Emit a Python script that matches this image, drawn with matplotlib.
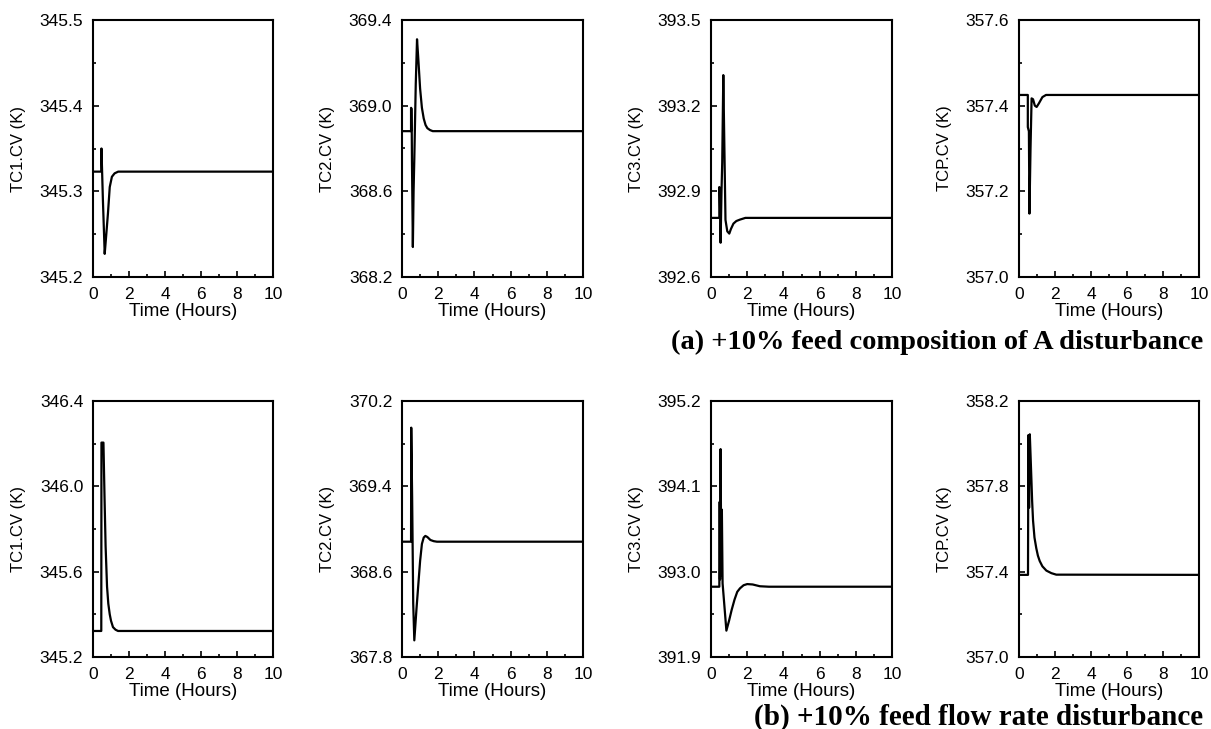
import matplotlib
matplotlib.use("Agg")
import matplotlib.pyplot as plt
from matplotlib.ticker import FixedLocator, MultipleLocator, FormatStrFormatter

plt.rcParams['font.family'] = ['Liberation Sans', 'DejaVu Sans']

# (a) +10% feed composition of A disturbance
t_tc1_a = [0, 0.46, 0.47, 0.55, 0.65, 0.72, 0.83, 0.93, 1.05, 1.20, 1.40, 10]
y_tc1_a = [345.323, 345.323, 345.350, 345.290, 345.227, 345.245, 345.274, 345.305, 345.317, 345.321, 345.323, 345.323]

t_tc2_a = [0, 0.50, 0.50, 0.53, 0.55, 0.60, 0.64, 0.68, 0.76, 0.83, 0.90, 1.00, 1.10, 1.20, 1.30, 1.40, 1.55, 1.70, 10]
y_tc2_a = [368.881, 368.881, 368.990, 368.985, 368.745, 368.340, 368.600, 368.750, 369.100, 369.310, 369.220, 369.080,
           368.990, 368.940, 368.910, 368.895, 368.886, 368.881, 368.881]

t_tc3_a = [0, 0.46, 0.46, 0.49, 0.53, 0.58, 0.62, 0.68, 0.74, 0.80, 0.90, 1.01, 1.10, 1.24, 1.40, 1.60, 1.90, 10]
y_tc3_a = [392.807, 392.807, 392.915, 392.900, 392.720, 392.900, 393.000, 393.307, 393.050, 392.800, 392.760, 392.752,
           392.768, 392.787, 392.796, 392.801, 392.807, 392.807]

t_tcp_a = [0, 0.49, 0.49, 0.55, 0.58, 0.64, 0.70, 0.78, 0.88, 0.98, 1.10, 1.30, 1.50, 10]
y_tcp_a = [357.425, 357.425, 357.350, 357.340, 357.148, 357.300, 357.417, 357.415, 357.400, 357.397, 357.405, 357.420, 357.425, 357.425]

# (b) +10% feed flow rate disturbance
t_tc1_b = [0, 0.46, 0.47, 0.58, 0.64, 0.70, 0.78, 0.85, 0.93, 1.00, 1.11, 1.25, 1.39, 10]
y_tc1_b = [345.322, 345.322, 346.205, 346.205, 345.950, 345.720, 345.530, 345.450, 345.400, 345.370, 345.340, 345.328,
           345.322, 345.322]

t_tc2_b = [0, 0.50, 0.51, 0.56, 0.62, 0.68, 0.80, 0.92, 1.00, 1.10, 1.20, 1.29, 1.40, 1.57, 1.75, 1.93, 10]
y_tc2_b = [368.881, 368.881, 369.950, 369.300, 368.300, 367.956, 368.250, 368.520, 368.700, 368.860, 368.920, 368.935,
           368.925, 368.897, 368.886, 368.881, 368.881]

t_tc3_b = [0, 0.46, 0.48, 0.50, 0.53, 0.57, 0.60, 0.64, 0.85, 1.00, 1.14, 1.30, 1.45, 1.60, 1.80, 2.00, 2.30, 2.70, 3.20, 10]
y_tc3_b = [392.806, 392.806, 393.900, 392.900, 394.580, 392.950, 393.800, 392.850, 392.240, 392.370, 392.506, 392.640,
           392.740, 392.785, 392.825, 392.840, 392.835, 392.812, 392.806, 392.806]

t_tcp_b = [0, 0.50, 0.52, 0.56, 0.60, 0.64, 0.69, 0.73, 0.78, 0.86, 0.96, 1.05, 1.15, 1.30, 1.52, 1.80, 2.07, 10]
y_tcp_b = [357.385, 357.385, 358.040, 357.700, 358.044, 357.950, 357.830, 357.730, 357.640, 357.560, 357.510, 357.475,
           357.450, 357.425, 357.405, 357.393, 357.386, 357.385]

ylabels = ["TC1.CV (K)", "TC2.CV (K)", "TC3.CV (K)", "TCP.CV (K)"]
yticks_a = [[345.2, 345.3, 345.4, 345.5], [368.2, 368.6, 369.0, 369.4],
            [392.6, 392.9, 393.2, 393.5], [357.0, 357.2, 357.4, 357.6]]
yticks_b = [[345.2, 345.6, 346.0, 346.4], [367.8, 368.6, 369.4, 370.2],
            [391.9, 393.0, 394.1, 395.2], [357.0, 357.4, 357.8, 358.2]]

caption_a = "(a) +10% feed composition of A disturbance"
caption_b = "(b) +10% feed flow rate disturbance"

W, H = 1211, 729
fig = plt.figure(figsize=(W / 100, H / 100), dpi=100)

lefts = [93, 402, 711, 1019]
widths = [180, 181, 181, 180]
rows = [(20, 277), (401, 657)]

series = [
    [(t_tc1_a, y_tc1_a), (t_tc2_a, y_tc2_a), (t_tc3_a, y_tc3_a), (t_tcp_a, y_tcp_a)],
    [(t_tc1_b, y_tc1_b), (t_tc2_b, y_tc2_b), (t_tc3_b, y_tc3_b), (t_tcp_b, y_tcp_b)],
]
ticks = [yticks_a, yticks_b]

for r, (top, bot) in enumerate(rows):
    for c in range(4):
        ax = fig.add_axes([lefts[c] / W, 1 - bot / H, widths[c] / W, (bot - top) / H])
        t, y = series[r][c]
        ax.plot(t, y, color='black', lw=1.6)
        yt = ticks[r][c]
        half = (yt[1] - yt[0]) / 2
        ax.set_xlim(0, 10)
        ax.set_ylim(yt[0], yt[-1])
        ax.xaxis.set_major_locator(MultipleLocator(2))
        ax.xaxis.set_minor_locator(MultipleLocator(1))
        ax.yaxis.set_major_locator(FixedLocator(yt))
        ax.yaxis.set_minor_locator(FixedLocator([v + half for v in yt[:-1]]))
        ax.yaxis.set_major_formatter(FormatStrFormatter('%.1f'))
        ax.tick_params(which='both', direction='in', top=False, right=False,
                       labelsize=12.5, pad=7, width=1.2)
        ax.tick_params(which='major', length=4)
        ax.tick_params(which='minor', length=2.5)
        for s in ax.spines.values():
            s.set_linewidth(1.5)
        ax.set_xlabel("Time (Hours)", fontsize=13.5, labelpad=1)
        ax.set_ylabel(ylabels[c], fontsize=12)
        ax.yaxis.set_label_coords(-0.37, 0.5)

fig.text(1203 / W, 1 - 342 / H, caption_a, ha='right', va='center',
         fontsize=20.5, fontweight='bold', family='Liberation Serif')
fig.text(1203 / W, 1 - 717 / H, caption_b, ha='right', va='center',
         fontsize=21, fontweight='bold', family='Liberation Serif')

fig.savefig("out.png", dpi=100)
